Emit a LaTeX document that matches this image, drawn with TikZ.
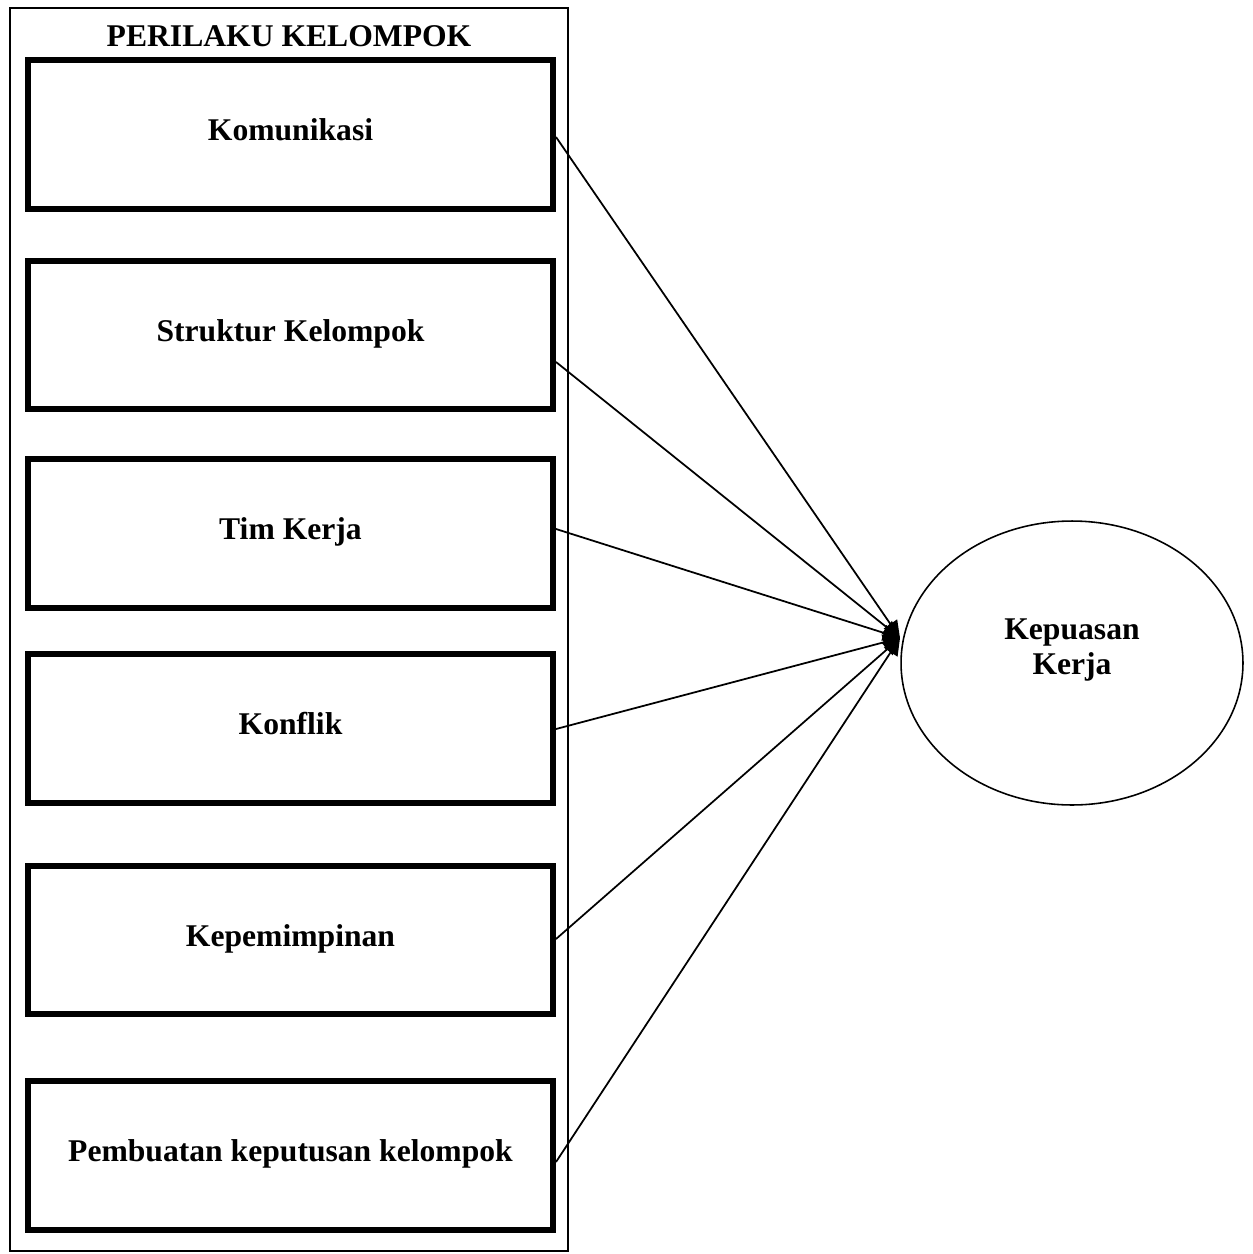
\documentclass[tikz,border=0pt]{standalone}
\usepackage{fontspec}
\setmainfont{Liberation Serif}
\usetikzlibrary{shapes.geometric,arrows.meta}
\begin{document}
\begin{tikzpicture}[x=0.02cm,y=-0.02cm,
  varbox/.style={draw,line width=0.12cm,rectangle,inner sep=0pt,minimum width=10.5cm,minimum height=2.98cm,text height=0.45cm,text depth=0.2cm,font=\fontsize{18}{21}\selectfont\bfseries},
  lbl/.style={font=\fontsize{18}{20}\selectfont\bfseries,align=center},
  conn/.style={line width=1pt,-{Triangle[length=0.34cm,width=0.32cm]}}]
\useasboundingbox (0,0) rectangle (1252,1254);
\draw[line width=0.7pt] (10,8) rectangle (568,1251);
\node[lbl] (title) at (289,36) {PERILAKU KELOMPOK};
\node[varbox] (b1) at (290.5,134.5) {Komunikasi};
\node[varbox] (b2) at (290.5,335) {Struktur Kelompok};
\node[varbox] (b3) at (290.5,533.5) {Tim Kerja};
\node[varbox] (b4) at (290.5,728.5) {Konflik};
\node[varbox] (b5) at (290.5,940) {Kepemimpinan};
\node[varbox] (b6) at (290.5,1155) {Pembuatan keputusan kelompok};
\node[draw,ellipse,line width=0.9pt,inner sep=0pt,minimum width=6.84cm,minimum height=5.68cm] (kk) at (1072,663) {};
\node[lbl] (kkt) at (1072,650) {Kepuasan\\Kerja};
\coordinate (tip) at (900,638);
\coordinate (s1) at (556,137);
\coordinate (s2) at (556,362);
\coordinate (s3) at (556,529);
\coordinate (s4) at (556,729);
\coordinate (s5) at (556,939);
\coordinate (s6) at (556,1162);
\foreach \i in {1,...,6} {\draw[conn] (s\i) -- (tip);}
\end{tikzpicture}
\end{document}
